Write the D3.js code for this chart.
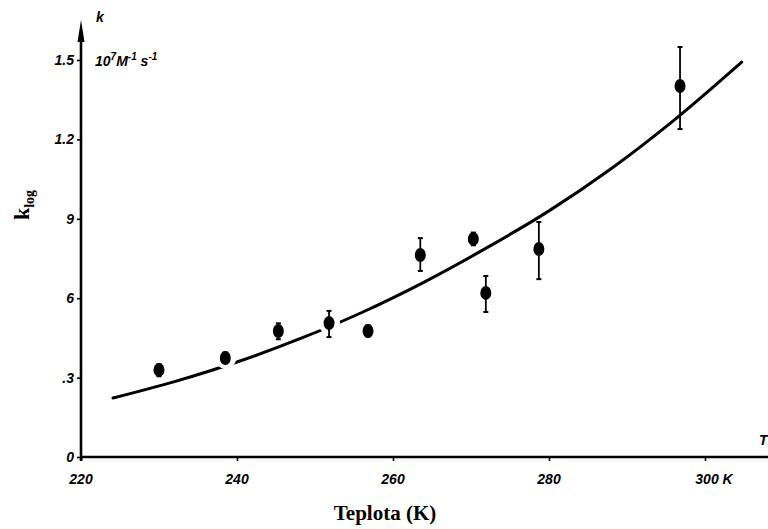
<!DOCTYPE html>
<html>
<head>
<meta charset="utf-8">
<script src="https://cdn.jsdelivr.net/npm/d3@7"></script>
<style>
  html, body { margin: 0; padding: 0; background: #fff; }
  svg { display: block; }
  .tick-label { font-family: "Liberation Sans", Arial, sans-serif; font-weight: bold; font-style: italic; font-size: 14px; fill: #000; }
  .title { font-family: "Liberation Serif", "Times New Roman", serif; font-weight: bold; fill: #000; }
</style>
</head>
<body>
<svg id="chart" width="768" height="529"></svg>
<script>
// Measured rate constants k (10^7 M^-1 s^-1) versus temperature T (K)
const temperature = [230.0, 238.5, 245.3, 251.8, 256.8, 263.5, 270.3, 271.9, 278.7, 296.8];
const rate        = [0.329, 0.374, 0.476, 0.506, 0.476, 0.763, 0.824, 0.620, 0.786, 1.402];
const rateLow     = [0.305, 0.355, 0.445, 0.453, 0.455, 0.703, 0.800, 0.548, 0.672, 1.239];
const rateHigh    = [0.350, 0.395, 0.505, 0.552, 0.497, 0.827, 0.848, 0.684, 0.888, 1.549];

// Fitted Arrhenius-type curve, sampled along T
const fitT = [224.1, 232, 240, 248, 256, 264, 272, 280, 288, 296, 304.7];
const fitK = [0.223, 0.285, 0.359, 0.446, 0.546, 0.661, 0.790, 0.930, 1.090, 1.272, 1.492];

// Axis ticks and their printed labels
const xTicks = [220, 240, 260, 280, 300];
const xTickLabels = ["220", "240", "260", "280", "300 K"];
const yTicks = [0, 0.3, 0.6, 0.9, 1.2, 1.5];
const yTickLabels = ["0", ".3", "6", "9", "1.2", "1.5"];

const svg = d3.select("#chart");

const x = d3.scaleLinear().domain([220, 300]).range([81, 705]);
const y = d3.scaleLinear().domain([0, 1.5]).range([457, 60]);

// Axes
const axisColor = "#000";
svg.append("line")
  .attr("x1", x(220)).attr("x2", 768)
  .attr("y1", y(0)).attr("y2", y(0))
  .attr("stroke", axisColor).attr("stroke-width", 2.6);
svg.append("line")
  .attr("x1", x(220)).attr("x2", x(220))
  .attr("y1", y(0) + 4).attr("y2", 34)
  .attr("stroke", axisColor).attr("stroke-width", 2.6);
// arrow head on the k axis
svg.append("path")
  .attr("d", `M${x(220) - 3.5},42 L${x(220)},20 L${x(220) + 3.5},42 Z`)
  .attr("fill", axisColor);

// x ticks
const xAxis = d3.axisBottom(x).tickValues(xTicks).tickSize(4).tickFormat("");
const gx = svg.append("g").attr("transform", `translate(0,${y(0)})`).call(xAxis);
gx.select(".domain").remove();
gx.selectAll(".tick line").attr("stroke-width", 1.6);
svg.selectAll(".xlab").data(xTicks).enter().append("text")
  .attr("class", "tick-label")
  .attr("x", (d, i) => x(d) + (i === xTicks.length - 1 ? 9 : 0))
  .attr("y", 484)
  .attr("text-anchor", "middle")
  .text((d, i) => xTickLabels[i]);

// y ticks
const yAxis = d3.axisLeft(y).tickValues(yTicks).tickSize(4).tickFormat("");
const gy = svg.append("g").attr("transform", `translate(${x(220)},0)`).call(yAxis);
gy.select(".domain").remove();
gy.selectAll(".tick line").attr("stroke-width", 1.6);
svg.selectAll(".ylab").data(yTicks).enter().append("text")
  .attr("class", "tick-label")
  .attr("x", 74)
  .attr("y", d => y(d) + 5)
  .attr("text-anchor", "end")
  .text((d, i) => yTickLabels[i]);

// Axis annotations
svg.append("text").attr("class", "tick-label")
  .attr("x", 96).attr("y", 22).attr("font-size", 15).text("k");
const unit = svg.append("text").attr("class", "tick-label")
  .attr("x", 95).attr("y", 66).attr("font-size", 15);
unit.append("tspan").text("10");
unit.append("tspan").attr("dy", -6).attr("font-size", 10).text("7");
unit.append("tspan").attr("dy", 6).text("M");
unit.append("tspan").attr("dy", -6).attr("font-size", 10).text("-1");
unit.append("tspan").attr("dy", 6).text(" s");
unit.append("tspan").attr("dy", -6).attr("font-size", 10).text("-1");
svg.append("text").attr("class", "tick-label")
  .attr("x", 759).attr("y", 445).attr("font-size", 14).text("T");

// Axis titles
svg.append("text").attr("class", "title")
  .attr("x", 385).attr("y", 520).attr("text-anchor", "middle")
  .attr("font-size", 21).text("Teplota (K)");
const ylab = svg.append("text").attr("class", "title")
  .attr("transform", "translate(29,205) rotate(-90)")
  .attr("text-anchor", "middle").attr("font-size", 22);
ylab.append("tspan").text("k");
ylab.append("tspan").attr("dy", 5).attr("font-size", 14).text("log");

// Fitted curve
const line = d3.line().x(d => x(d[0])).y(d => y(d[1])).curve(d3.curveMonotoneX);
svg.append("path")
  .datum(fitT.map((t, i) => [t, fitK[i]]))
  .attr("d", line)
  .attr("fill", "none").attr("stroke", "#000").attr("stroke-width", 3)
  .attr("stroke-linecap", "round");

const pts = temperature.map((t, i) => ({ t, k: rate[i], lo: rateLow[i], hi: rateHigh[i] }));

// white halo under each marker, which interrupts the curve next to points
svg.selectAll(".halo").data(pts).enter().append("ellipse")
  .attr("cx", d => x(d.t)).attr("cy", d => y(d.k))
  .attr("rx", 11).attr("ry", 10.5).attr("fill", "#fff");

// error bars
const eb = svg.selectAll(".eb").data(pts).enter().append("g");
eb.append("line")
  .attr("x1", d => x(d.t)).attr("x2", d => x(d.t))
  .attr("y1", d => y(d.lo)).attr("y2", d => y(d.hi))
  .attr("stroke", "#000").attr("stroke-width", 1.8);
eb.append("line")
  .attr("x1", d => x(d.t) - 2.5).attr("x2", d => x(d.t) + 2.5)
  .attr("y1", d => y(d.lo)).attr("y2", d => y(d.lo))
  .attr("stroke", "#000").attr("stroke-width", 2);
eb.append("line")
  .attr("x1", d => x(d.t) - 2.5).attr("x2", d => x(d.t) + 2.5)
  .attr("y1", d => y(d.hi)).attr("y2", d => y(d.hi))
  .attr("stroke", "#000").attr("stroke-width", 2);

// markers
svg.selectAll(".pt").data(pts).enter().append("ellipse")
  .attr("cx", d => x(d.t)).attr("cy", d => y(d.k))
  .attr("rx", 5.5).attr("ry", 7).attr("fill", "#000");
</script>
</body>
</html>
